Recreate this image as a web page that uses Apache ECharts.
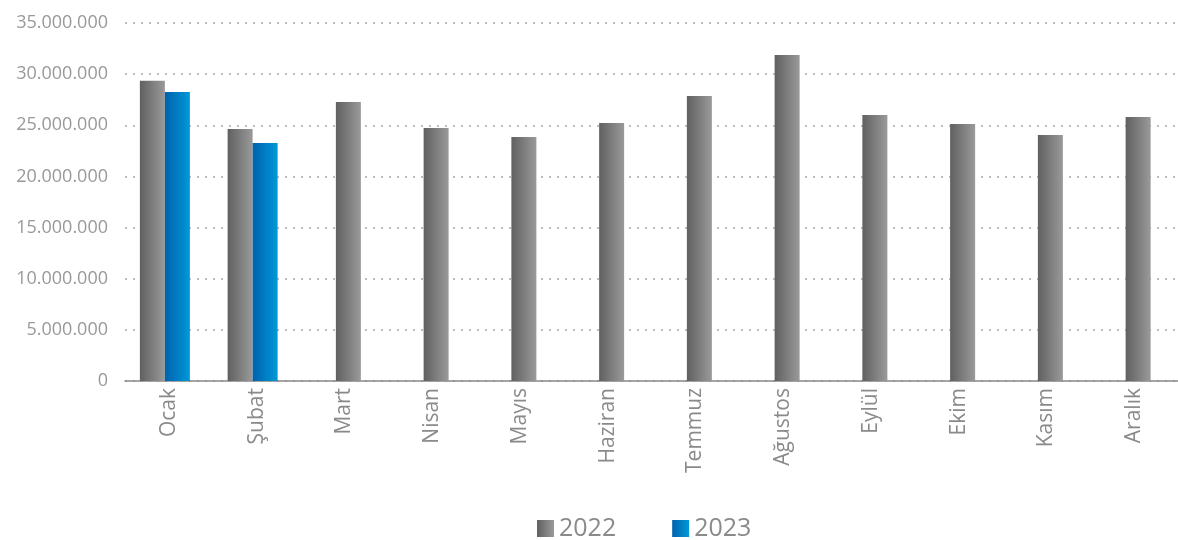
<!DOCTYPE html>
<html>
<head>
<meta charset="utf-8">
<script src="https://cdn.jsdelivr.net/npm/echarts@6/dist/echarts.min.js"></script>
<style>
  html, body { margin: 0; padding: 0; background: #fff; }
  #chart { width: 1178px; height: 540px; }
</style>
</head>
<body>
<div id="chart"></div>
<script>
const months = ['Ocak', 'Şubat', 'Mart', 'Nisan', 'Mayıs', 'Haziran', 'Temmuz', 'Ağustos', 'Eylül', 'Ekim', 'Kasım', 'Aralık'];
const values2022 = [29360000, 24640000, 27280000, 24730000, 23850000, 25220000, 27860000, 31870000, 26000000, 25130000, 24050000, 25810000];
const values2023 = [28250000, 23270000, null, null, null, null, null, null, null, null, null, null];
const seriesNames = ['2022', '2023'];
const yTicks = { min: 0, max: 35000000, interval: 5000000 };

const grayGrad = new echarts.graphic.LinearGradient(0, 0, 1, 0, [
  { offset: 0, color: '#606060' }, { offset: 1, color: '#9a9a9a' }
]);
const blueGrad = new echarts.graphic.LinearGradient(0, 0, 1, 0, [
  { offset: 0, color: '#0062ad' }, { offset: 1, color: '#0098d9' }
]);

const BAR_W = 25;

function makeRender(seriesIdx, fill) {
  return function (params, api) {
    const i = params.dataIndex;
    const v = api.value(1);
    if (v == null || isNaN(v)) return null;
    const top = api.coord([i, v]);
    const base = api.coord([i, 0]);
    const paired = values2023[i] != null;
    let cx = top[0] + 4;
    if (paired) {
      cx = seriesIdx === 0 ? top[0] - BAR_W / 2 - 4 : top[0] + BAR_W / 2 - 4;
    }
    return {
      type: 'rect',
      shape: { x: cx - BAR_W / 2, y: top[1], width: BAR_W, height: base[1] - top[1] },
      style: { fill: fill }
    };
  };
}

function fmt(v) {
  return String(v).replace(/\B(?=(\d{3})+(?!\d))/g, '.');
}

const chart = echarts.init(document.getElementById('chart'), null, { renderer: 'canvas' });
chart.setOption({
  backgroundColor: '#fff',
  animation: false,
  textStyle: { fontFamily: 'Open Sans' },
  grid: { left: 125, right: -16, top: 23, bottom: 159, containLabel: false },
  legend: {
    data: seriesNames,
    bottom: -6,
    left: 532,
    icon: 'rect',
    itemWidth: 17,
    itemHeight: 17,
    itemGap: 56,
    itemTextGap: 7,
    itemStyle: { borderWidth: 0 },
    textStyle: { fontSize: 25, color: '#8a8a8a', fontFamily: 'Open Sans' }
  },
  xAxis: {
    type: 'category',
    data: months,
    axisLine: { show: true, lineStyle: { color: '#888', width: 1.5 } },
    axisTick: { show: false },
    axisLabel: { rotate: 90, fontSize: 21, color: '#8a8a8a', margin: 7, interval: 0, fontFamily: 'Open Sans' },
    splitLine: { show: false }
  },
  yAxis: {
    type: 'value',
    min: yTicks.min,
    max: yTicks.max,
    interval: yTicks.interval,
    axisLine: { show: false },
    axisTick: { show: false },
    axisLabel: { fontSize: 18, color: '#999', margin: 17, formatter: fmt, fontFamily: 'Open Sans' },
    splitLine: { show: true, lineStyle: { color: '#bdbdbd', width: 2, type: [2, 6] } }
  },
  series: [
    {
      name: seriesNames[0],
      type: 'custom',
      itemStyle: { color: grayGrad },
      data: values2022.map((v, i) => [i, v]),
      encode: { x: 0, y: 1 },
      renderItem: makeRender(0, grayGrad)
    },
    {
      name: seriesNames[1],
      type: 'custom',
      itemStyle: { color: blueGrad },
      data: values2023.map((v, i) => [i, v]),
      encode: { x: 0, y: 1 },
      renderItem: makeRender(1, blueGrad)
    }
  ]
});
</script>
</body>
</html>
